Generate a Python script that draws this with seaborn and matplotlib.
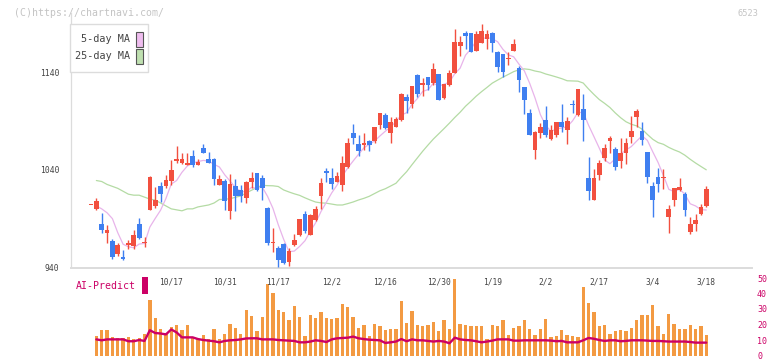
import numpy as np
import pandas as pd
import matplotlib
matplotlib.use("Agg")
import matplotlib.pyplot as plt
import matplotlib.transforms as mtransforms
from matplotlib.patches import Rectangle
import seaborn as sns

# ── Data ──────────────────────────────────────────────────────────────────

opens = [1004, 1000, 985, 975, 967, 954, 951, 963, 962, 985, 965, 999, 1003, 1023, 1023,
         1029, 1049, 1047, 1045, 1054, 1045, 1062, 1051, 1051, 1024, 1028, 998, 1023, 1019,
         1011, 1027, 1037, 1032, 1001, 965, 960, 964, 946, 963, 973, 995, 973, 989, 1013,
         1039, 1032, 1027, 1024, 1043, 1078, 1066, 1065, 1069, 1069, 1086, 1096, 1078, 1084,
         1091, 1114, 1107, 1137, 1127, 1135, 1129, 1138, 1113, 1127, 1139, 1167, 1180, 1180,
         1162, 1170, 1174, 1180, 1160, 1158, 1153, 1162, 1144, 1125, 1098, 1060, 1078, 1091,
         1071, 1076, 1089, 1081, 1107, 1096, 1102, 1032, 1009, 1035, 1052, 1069, 1061, 1049,
         1057, 1074, 1094, 1080, 1058, 1023, 1033, 1032, 992, 1009, 1019, 1015, 976, 985,
         995, 1003]
highs = [1004, 1011, 996, 983, 969, 965, 958, 968, 978, 991, 971, 1034, 1022, 1027, 1035,
         1050, 1064, 1057, 1057, 1060, 1051, 1066, 1058, 1052, 1035, 1031, 1036, 1031, 1024,
         1028, 1038, 1037, 1035, 1002, 980, 962, 965, 960, 974, 990, 998, 995, 1003, 1032,
         1042, 1042, 1038, 1054, 1073, 1087, 1076, 1078, 1070, 1084, 1098, 1098, 1094, 1094,
         1119, 1118, 1126, 1138, 1134, 1135, 1149, 1138, 1128, 1142, 1184, 1177, 1182, 1180,
         1182, 1189, 1183, 1181, 1162, 1158, 1161, 1174, 1146, 1125, 1102, 1080, 1088, 1105,
         1086, 1089, 1107, 1094, 1111, 1123, 1118, 1053, 1041, 1050, 1066, 1075, 1063, 1072,
         1072, 1095, 1102, 1089, 1058, 1027, 1042, 1041, 1004, 1021, 1032, 1017, 992, 995,
         1005, 1023]
lows = [1004, 999, 975, 965, 949, 952, 948, 959, 959, 969, 961, 999, 1001, 1007, 1021,
        1024, 1047, 1046, 1045, 1043, 1045, 1057, 1047, 1024, 1024, 999, 990, 998, 1007,
        1006, 1021, 1018, 1009, 963, 956, 941, 944, 942, 962, 972, 975, 973, 988, 1000,
        1027, 1020, 1027, 1018, 1042, 1066, 1054, 1060, 1059, 1067, 1082, 1082, 1067, 1084,
        1090, 1098, 1103, 1114, 1115, 1122, 1127, 1111, 1112, 1126, 1139, 1156, 1164, 1160,
        1162, 1170, 1164, 1160, 1140, 1135, 1147, 1162, 1120, 1097, 1076, 1051, 1072, 1074,
        1070, 1074, 1079, 1066, 1098, 1095, 1069, 1009, 1009, 1030, 1049, 1057, 1040, 1042,
        1046, 1067, 1084, 1065, 1026, 992, 1017, 1020, 975, 1003, 1018, 993, 974, 977,
        994, 1002]
closes = [1004, 1008, 978, 978, 951, 963, 949, 965, 973, 970, 966, 1033, 1009, 1015, 1030,
          1040, 1051, 1051, 1047, 1045, 1048, 1057, 1047, 1031, 1031, 1008, 1025, 1013, 1013,
          1027, 1032, 1019, 1021, 965, 966, 948, 945, 957, 968, 990, 977, 994, 1000, 1026,
          1037, 1025, 1034, 1047, 1067, 1072, 1059, 1067, 1065, 1084, 1098, 1083, 1089, 1092,
          1118, 1110, 1126, 1118, 1129, 1127, 1143, 1111, 1128, 1139, 1171, 1171, 1177, 1160,
          1179, 1182, 1179, 1170, 1145, 1140, 1154, 1169, 1132, 1111, 1076, 1079, 1084, 1076,
          1081, 1089, 1084, 1090, 1106, 1123, 1091, 1018, 1032, 1047, 1062, 1072, 1043, 1057,
          1067, 1080, 1100, 1070, 1033, 1009, 1025, 1033, 1000, 1021, 1022, 999, 984, 989,
          1002, 1020]

# moving averages before enough history is on screen
ma5_head = [np.nan, 1003, 1000, 996, 990]
ma25_head = [np.nan, 1029, 1028, 1025, 1023, 1021, 1018, 1015, 1014, 1014, 1012, 1010,
             1009, 1006, 1003, 1000, 999, 998, 1000, 1000, 1002, 1003, 1004, 1006]

# relative traded volume (no scale shown on the chart)
volume = [np.nan, 20.5, 26.5, 26.5, 19.2, 17.5, 17.5, 18.5, 16.5, 17.5, 22.5,
          56.5, 38.5, 27.5, 23.5, 29.2, 31.5, 25.8, 31.5, 19.2, 16.5,
          20.8, 16.5, 27.5, 16.5, 22.5, 32.5, 28.5, 22.5, 46.5, 40.8,
          25.2, 39.8, 73.2, 63.8, 46.5, 44.8, 36.5, 50.5, 39.8, 19.8,
          41.5, 38.5, 44.8, 38.5, 37.5, 38.5, 52.8, 49.8, 39.8, 28.5,
          31.5, 19.8, 32.5, 29.8, 26.5, 27.5, 27.5, 55.8, 33.8, 45.8,
          30.8, 29.8, 31.8, 34.8, 24.8, 36.5, 27.5, 78.5, 32.5, 30.8,
          29.8, 30.5, 29.8, 16.5, 30.8, 29.8, 36.5, 21.5, 28.2, 30.2,
          36.5, 26.8, 21.5, 27.5, 37.5, 18.5, 19.8, 25.8, 21.5, 19.8,
          18.5, 69.8, 53.8, 44.8, 30.5, 31.5, 22.5, 24.8, 25.8, 24.8,
          28.5, 36.5, 41.5, 41.5, 51.5, 29.8, 22.5, 42.5, 32.5, 26.8,
          27.5, 31.5, 26.8, 29.8, 20.8]

ai_predict = [np.nan, 10.4, 9.8, 10.4, 10.4, 10.4, 10.4, 9.2, 9.2, 10.0, 9.4,
              16.3, 14.5, 14.2, 13.6, 16.8, 14.9, 11.7, 11.7, 11.7, 10.6,
              10.0, 9.6, 9.2, 8.5, 9.4, 9.8, 10.0, 10.4, 11.0, 11.1, 11.1,
              10.4, 10.4, 10.4, 10.0, 9.8, 9.6, 9.4, 8.5, 8.5, 9.0,
              9.8, 9.4, 8.7, 10.4, 11.1, 11.3, 11.5, 12.2, 11.1, 10.6,
              10.2, 10.0, 9.8, 8.1, 8.5, 9.0, 10.6, 9.2, 10.4, 9.8,
              9.8, 9.4, 9.0, 9.4, 9.0, 7.9, 11.5, 10.4, 10.0, 9.8,
              9.2, 8.5, 9.0, 9.6, 10.4, 10.4, 10.4,
              9.6, 9.6, 9.8, 9.8, 9.8, 9.8, 9.8, 9.6, 9.2, 9.4,
              8.5, 8.5, 8.5, 9.8, 11.3, 10.8, 10.0, 9.4, 9.8, 9.8,
              9.2, 9.4, 9.8, 9.8, 9.8, 9.6, 9.4, 9.4, 9.2, 9.0,
              9.0, 9.0, 9.0, 8.7, 8.3, 8.3, 8.3]

date_labels = ["10/17", "10/31", "11/17", "12/2", "12/16", "12/30",
               "1/19", "2/2", "2/17", "3/4", "3/18"]
date_label_idx = [15, 25, 35, 45, 55, 65, 75, 85, 95, 105, 115]

price_ticks = [940, 1040, 1140]
ai_ticks = [0, 10, 20, 30, 40, 50]

# ── Styling ───────────────────────────────────────────────────────────────

RED = "#f2503f"
BLUE = "#3f7ff0"
PINK = "#e8b4ea"
GREEN = "#b4dba4"
ORANGE = "#f39a42"
MAGENTA = "#cc0066"
GRID = "#dcdcdc"
TEXT = "#444444"

W, H = 772, 361

sns.set_theme(style="white")
plt.rcParams["font.family"] = ["DejaVu Sans Mono", "DejaVu Sans"]

df = pd.DataFrame({"o": opens, "h": highs, "l": lows, "c": closes,
                   "vol": volume, "ai": ai_predict})
df["i"] = np.arange(len(df))
ma5 = df["c"].rolling(5).mean()
ma5.iloc[:len(ma5_head)] = ma5_head
ma25 = df["c"].rolling(25).mean()
ma25.iloc[:len(ma25_head)] = ma25_head
df["ma5"] = ma5
df["ma25"] = ma25

x_lo, x_hi = -3.74, 123.55

fig = plt.figure(figsize=(W / 100, H / 100), dpi=100)

# ── Price panel ───────────────────────────────────────────────────────────

ax = fig.add_axes([71 / W, 1 - 267.5 / H, 681 / W, 254.1 / H])
ax.set_xlim(x_lo, x_hi)
ax.set_ylim(940, 1200)

sns.lineplot(data=df, x="i", y="ma25", ax=ax, color=GREEN, linewidth=0.9,
             estimator=None, errorbar=None)
sns.lineplot(data=df, x="i", y="ma5", ax=ax, color=PINK, linewidth=0.9,
             estimator=None, errorbar=None)

up = df["c"] >= df["o"]
colours = np.where(up, RED, BLUE)
ax.vlines(df["i"], df["l"], df["h"], colors=colours, linewidth=1.0, zorder=3)
body = (df["c"] - df["o"]).abs().clip(lower=1.0)
ax.bar(df["i"], body, bottom=df[["o", "c"]].min(axis=1), width=0.88,
       color=colours, linewidth=0, zorder=4)

ax.set_xlabel("")
ax.set_ylabel("")
for side in ["top", "right"]:
    ax.spines[side].set_visible(False)
ax.spines["left"].set_color(GRID)
ax.spines["left"].set_linewidth(0.9)
ax.spines["bottom"].set_color(GRID)
ax.spines["bottom"].set_linewidth(1.4)
ax.set_yticks(price_ticks)
ax.set_yticklabels([str(t) for t in price_ticks])
ax.tick_params(axis="y", length=4.3, width=0.9, color=GRID, pad=4,
               labelsize=5.8, labelcolor=TEXT)
ax.set_xticks(np.linspace(x_lo, x_hi, 12))
ax.set_xticklabels([])
ax.tick_params(axis="x", direction="inout", length=5, width=1.0, color=GRID)
ax.patch.set_alpha(0)

# ── Volume / AI-Predict panel ─────────────────────────────────────────────

ax_v = fig.add_axes([71 / W, 1 - 355.5 / H, 681 / W, 77.5 / H])
ax_v.bar(df["i"], df["vol"], width=0.62, color=ORANGE, linewidth=0)
ax_v.set_xlim(x_lo, x_hi)
ax_v.set_ylim(0, 79.5)
ax_v.axis("off")

trans = mtransforms.blended_transform_factory(ax_v.transData, ax_v.transAxes)
for pos, lab in zip(date_label_idx, date_labels):
    ax_v.text(pos, 0.95, lab, transform=trans, ha="center", va="center",
              fontsize=5.7, color=TEXT, zorder=5)

ax_a = ax_v.twinx()
sns.lineplot(data=df, x="i", y="ai", ax=ax_a, color=MAGENTA, linewidth=1.7,
             estimator=None, errorbar=None)
ax_a.set_xlim(x_lo, x_hi)
ax_a.set_ylim(0, 50)
ax_a.set_ylabel("")
ax_a.set_yticks(ai_ticks)
ax_a.set_yticklabels([str(t) for t in ai_ticks])
ax_a.tick_params(axis="y", right=True, left=False, length=0, pad=3.6,
                 labelsize=6, labelcolor=MAGENTA)
for s in ax_a.spines.values():
    s.set_visible(False)
ax_a.patch.set_alpha(0)

# ── Annotations in pixel coordinates ─────────────────────────────────────

ov = fig.add_axes([0, 0, 1, 1])
ov.set_xlim(0, W)
ov.set_ylim(H, 0)
ov.axis("off")
ov.patch.set_alpha(0)

ov.text(14, 13, "(C)https://chartnavi.com/", fontsize=7.1, color="#c4c4c4",
        ha="left", va="center")
ov.text(758, 13, "6523", fontsize=6.2, color="#c4c4c4", ha="right", va="center")

ov.add_patch(Rectangle((70, 24), 78, 48, facecolor="white", edgecolor=GRID, linewidth=1.0))
ov.text(130, 39.5, "5-day MA", fontsize=7.3, color=TEXT, ha="right", va="center")
ov.text(130, 56, "25-day MA", fontsize=7.3, color=TEXT, ha="right", va="center")
ov.add_patch(Rectangle((136, 31.5), 6.5, 15, facecolor="#efbdef", edgecolor="#555555", linewidth=0.8))
ov.add_patch(Rectangle((136, 48.5), 6.5, 15, facecolor="#bfe0b0", edgecolor="#555555", linewidth=0.8))

ov.text(76, 286, "AI-Predict", fontsize=7.1, color=MAGENTA, ha="left", va="center")
ov.add_patch(Rectangle((142, 277), 6, 17, facecolor=MAGENTA, edgecolor="none"))

fig.savefig("out.png", dpi=100)
